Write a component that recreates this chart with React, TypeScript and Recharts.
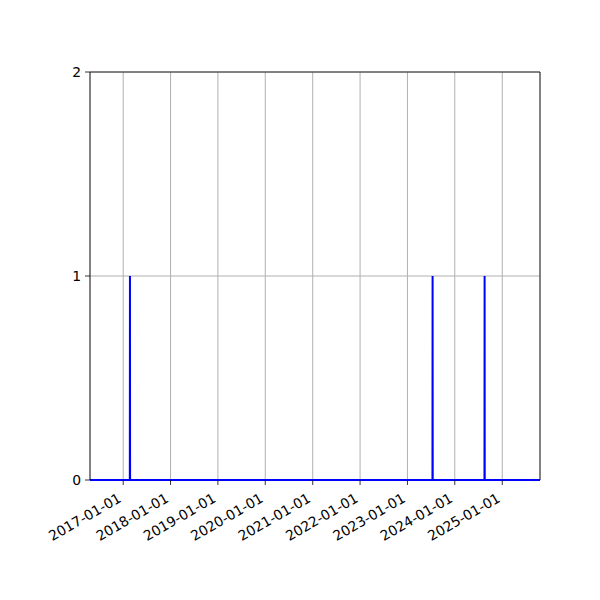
import { LineChart, Line, XAxis, YAxis, CartesianGrid, ReferenceLine } from "recharts";

// dates where the count jumped to 1
const spikeDates = ["2017-02-22", "2023-07-14", "2024-08-18"];
const spikeValues = [1, 1, 1];

// span of the series (it fills the whole x range)
const rangeStart = "2016-04-20";
const rangeEnd = "2025-10-19";

const yearTicks = [
  "2017-01-01",
  "2018-01-01",
  "2019-01-01",
  "2020-01-01",
  "2021-01-01",
  "2022-01-01",
  "2023-01-01",
  "2024-01-01",
  "2025-01-01",
];
const yTicks = [0, 1, 2];

const DAY = 24 * 3600 * 1000;
const ts = (d: string) => Date.parse(d + "T00:00:00Z");

// flat zero line with a one-day pulse at each spike
const series: { t: number; v: number }[] = [{ t: ts(rangeStart), v: 0 }];
spikeDates.forEach((d, i) => {
  const t = ts(d);
  series.push({ t: t - DAY, v: 0 }, { t, v: spikeValues[i] }, { t: t + DAY, v: 0 });
});
series.push({ t: ts(rangeEnd), v: 0 });

const FONT = "'DejaVu Sans', sans-serif";

const fmtDate = (t: number) => new Date(t).toISOString().slice(0, 10);

function DateTick(props: any) {
  const { x, payload } = props;
  const ax = x - 1;
  const ay = 501;
  return (
    <text
      x={ax}
      y={ay}
      transform={`rotate(-30, ${ax}, ${ay})`}
      textAnchor="end"
      fontSize={13.9}
      fontFamily={FONT}
      fill="#000"
    >
      {fmtDate(payload.value)}
    </text>
  );
}

export default function App() {
  return (
    <div style={{ position: "absolute", left: 0, top: 0, width: 600, height: 600, background: "#fff" }}>
      <LineChart
        width={600}
        height={600}
        data={series}
        margin={{ top: 72, right: 60, left: 40, bottom: 20 }}
      >
        <CartesianGrid stroke="#b0b0b0" strokeWidth={1} />
        <XAxis
          dataKey="t"
          type="number"
          scale="time"
          domain={[ts(rangeStart), ts(rangeEnd)]}
          ticks={yearTicks.map(ts)}
          interval={0}
          height={100}
          tick={<DateTick />}
          tickSize={5}
          tickLine={{ stroke: "#000", strokeWidth: 0.8 }}
          axisLine={false}
        />
        <YAxis
          type="number"
          domain={[0, 2]}
          ticks={yTicks}
          width={50}
          tickSize={5}
          tickMargin={4}
          tick={{ fontSize: 13.9, fontFamily: FONT, fill: "#000" }}
          tickLine={{ stroke: "#000", strokeWidth: 0.8 }}
          axisLine={{ stroke: "#000", strokeWidth: 0.8 }}
        />
        <ReferenceLine y={2} stroke="#000" strokeWidth={0.8} />
        <ReferenceLine x={ts(rangeEnd)} stroke="#000" strokeWidth={0.8} />
        <Line
          dataKey="v"
          type="linear"
          stroke="#0000ff"
          strokeWidth={2}
          dot={false}
          isAnimationActive={false}
        />
      </LineChart>
    </div>
  );
}
